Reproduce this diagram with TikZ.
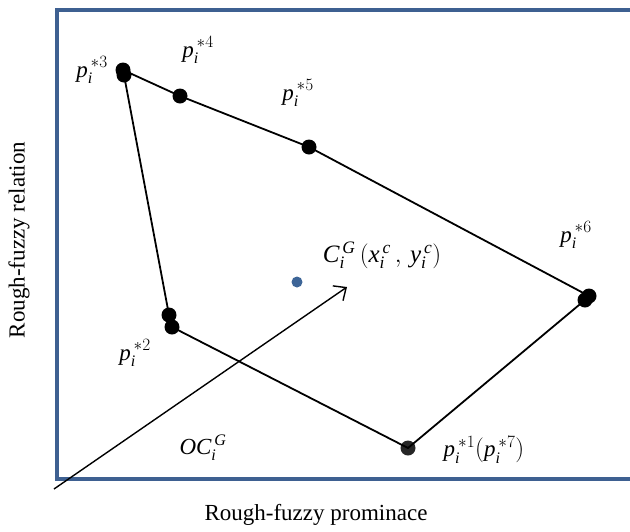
\documentclass[tikz,border=0pt]{standalone}
\usepackage{fontspec}
\setmainfont{Liberation Serif}
\usetikzlibrary{arrows.meta}
\definecolor{framebl}{RGB}{62,96,145}
\definecolor{ctrbl}{RGB}{61,101,151}
\newcommand{\pst}[1]{\mathit{p}_{\mathit{i}}^{\,*#1}}
\tikzset{
  dot/.style={circle, fill=black, inner sep=0pt, minimum size=15pt},
  lbl/.style={font=\fontsize{23}{27}\selectfont},
}
\begin{document}
\begin{tikzpicture}[x=1pt, y=-1pt]
    \useasboundingbox (0,0) rectangle (630,531);
    % frame
    \draw[framebl, line width=4.5pt] (640,10) -- (57,10) -- (57,479) -- (640,479);
    % polygon vertices
    \node[dot] (p3a) at (123,70) {};
    \node[dot] (p3b) at (124,75) {};
    \node[dot] (p4) at (180,96) {};
    \node[dot] (p5) at (309,147) {};
    \node[dot] (p6a) at (585,300) {};
    \node[dot] (p6b) at (589,296) {};
    \node[dot, fill=black!85] (p1) at (408,448) {};
    \node[dot] (p2a) at (169,315) {};
    \node[dot] (p2b) at (172,327) {};
    \draw[line width=1.8pt] (p3a.center) -- (p4.center) -- (p5.center) -- (p6b.center);
    \draw[line width=1.8pt] (p6a.center) -- (p1.center) -- (p2b.center);
    \draw[line width=1.8pt] (p2a.center) -- (p3b.center);
    % centre point and arrow
    \node[circle, fill=ctrbl, inner sep=0pt, minimum size=11pt] (ctr) at (297,282) {};
    \coordinate (orig) at (54,489);
    \coordinate (tip) at (347,287);
    \draw[line width=1.4pt, -{Straight Barb[length=10pt, width=18pt, line width=1.4pt]}] (orig) -- (tip);
    % labels
    \node[lbl] (l3) at (92,70) {$\pst{3}$};
    \node[lbl] (l4) at (198,50) {$\pst{4}$};
    \node[lbl] (l5) at (298,93) {$\pst{5}$};
    \node[lbl] (l6) at (576,235) {$\pst{6}$};
    \node[lbl] (l2) at (135,353) {$\pst{2}$};
    \node[lbl] (l1) at (484,450) {$\pst{1}(\pst{7})$};
    \node[lbl] (loc) at (203,448) {$\mathit{OC}_{\mathit{i}}^{\,\mathit{G}}$};
    \node[lbl, font=\fontsize{25}{29}\selectfont] (lc) at (382,255) {$\mathit{C}_{\mathit{i}}^{\,\mathit{G}}\,(\mathit{x}_{\mathit{i}}^{\,\mathit{c}}\,,\,\mathit{y}_{\mathit{i}}^{\,\mathit{c}})$};
    % axis titles
    \node[lbl] (xt) at (316,515) {Rough-fuzzy prominace};
    \node[lbl, rotate=90] (yt) at (19,240) {Rough-fuzzy relation};
\end{tikzpicture}
\end{document}
